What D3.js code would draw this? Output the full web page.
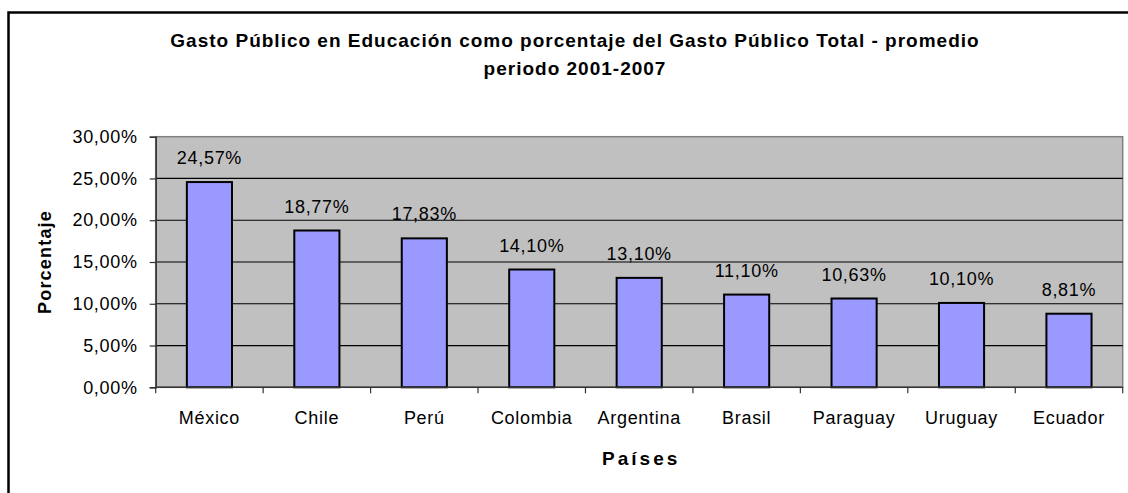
<!DOCTYPE html>
<html>
<head>
<meta charset="utf-8">
<script src="https://cdn.jsdelivr.net/npm/d3@7"></script>
<style>
  body { margin: 0; background: #fff; }
  svg { display: block; font-family: "Liberation Sans", Arial, sans-serif; }
</style>
</head>
<body>
<div id="chart"></div>
<script>
// data
var countries = ["México", "Chile", "Perú", "Colombia", "Argentina", "Brasil", "Paraguay", "Uruguay", "Ecuador"];
var shares = [0.2457, 0.1877, 0.1783, 0.1410, 0.1310, 0.1110, 0.1063, 0.1010, 0.0881];
var yTicks = [0, 0.05, 0.10, 0.15, 0.20, 0.25, 0.30];
var titleLines = ["Gasto Público en Educación como porcentaje del Gasto Público Total - promedio", "periodo 2001-2007"];

var width = 1128, height = 493;
var plot = { left: 155.7, right: 1122.7, top: 136.7, bottom: 387.3 };

// spanish style number format: 30,00%
var locale = d3.formatLocale({ decimal: ",", thousands: ".", grouping: [3], currency: ["", ""], percent: "%" });
var pct = locale.format(".2%");

var svg = d3.select("#chart").append("svg")
  .attr("width", width)
  .attr("height", height);

// outer chart border (runs off the picture on the right and bottom)
svg.append("rect")
  .attr("x", 8.5).attr("y", 12.5)
  .attr("width", 1140).attr("height", 500)
  .attr("fill", "#fff")
  .attr("stroke", "#000")
  .attr("stroke-width", 2.5);

var x = d3.scaleBand()
  .domain(countries)
  .range([plot.left, plot.right])
  .paddingInner(0.58)
  .paddingOuter(0.29);

var y = d3.scaleLinear()
  .domain([0, 0.30])
  .range([plot.bottom, plot.top]);

// plot background
svg.append("rect")
  .attr("x", plot.left).attr("y", plot.top)
  .attr("width", plot.right - plot.left)
  .attr("height", plot.bottom - plot.top)
  .attr("fill", "#c0c0c0")
  .attr("stroke", "#808080")
  .attr("stroke-width", 1.5);

// horizontal gridlines
svg.append("g")
  .selectAll("line")
  .data(yTicks.filter(function (d) { return d > 0 && d < 0.30; }))
  .enter().append("line")
  .attr("x1", plot.left).attr("x2", plot.right)
  .attr("y1", function (d) { return y(d); })
  .attr("y2", function (d) { return y(d); })
  .attr("stroke", "#000")
  .attr("stroke-width", 1.2);

// y axis
var yAxis = svg.append("g")
  .attr("transform", "translate(" + plot.left + ",0)")
  .call(d3.axisLeft(y).tickValues(yTicks).tickFormat(pct).tickSize(6).tickPadding(12));
yAxis.select(".domain").attr("stroke", "#333").attr("stroke-width", 1.5);
yAxis.selectAll(".tick line").attr("stroke", "#333").attr("stroke-width", 1.2);
yAxis.selectAll("text")
  .attr("fill", "#000")
  .style("font-size", "18px")
  .style("letter-spacing", "0.7px");

// bars
svg.append("g")
  .selectAll("rect")
  .data(shares)
  .enter().append("rect")
  .attr("x", function (d, i) { return x(countries[i]); })
  .attr("y", function (d) { return y(d); })
  .attr("width", x.bandwidth())
  .attr("height", function (d) { return y(0) - y(d); })
  .attr("fill", "#9999ff")
  .attr("stroke", "#000")
  .attr("stroke-width", 2);

// value labels above the bars
svg.append("g")
  .selectAll("text")
  .data(shares)
  .enter().append("text")
  .attr("x", function (d, i) { return x(countries[i]) + x.bandwidth() / 2; })
  .attr("y", function (d) { return y(d) - 18; })
  .attr("text-anchor", "middle")
  .style("font-size", "18px")
  .style("letter-spacing", "0.7px")
  .text(function (d) { return pct(d); });

// x axis: line, boundary ticks and category labels
var xAxis = svg.append("g");
xAxis.append("line")
  .attr("x1", plot.left).attr("x2", plot.right)
  .attr("y1", plot.bottom).attr("y2", plot.bottom)
  .attr("stroke", "#333").attr("stroke-width", 1.5);
xAxis.selectAll(".bound")
  .data(d3.range(countries.length + 1))
  .enter().append("line")
  .attr("class", "bound")
  .attr("x1", function (i) { return plot.left + i * x.step(); })
  .attr("x2", function (i) { return plot.left + i * x.step(); })
  .attr("y1", plot.bottom).attr("y2", plot.bottom + 6)
  .attr("stroke", "#333").attr("stroke-width", 1.2);
xAxis.selectAll(".cat")
  .data(countries)
  .enter().append("text")
  .attr("class", "cat")
  .attr("x", function (d) { return x(d) + x.bandwidth() / 2; })
  .attr("y", 423.5)
  .attr("text-anchor", "middle")
  .style("font-size", "18px")
  .style("letter-spacing", "0.7px")
  .text(function (d) { return d; });

// titles
svg.append("g")
  .selectAll("text")
  .data(titleLines)
  .enter().append("text")
  .attr("x", 575)
  .attr("y", function (d, i) { return 47 + i * 27.5; })
  .attr("text-anchor", "middle")
  .style("font-size", "19px")
  .style("font-weight", "bold")
  .style("letter-spacing", "1px")
  .text(function (d) { return d; });

svg.append("text")
  .attr("transform", "translate(51," + ((plot.top + plot.bottom) / 2) + ") rotate(-90)")
  .attr("text-anchor", "middle")
  .style("font-size", "18px")
  .style("font-weight", "bold")
  .style("letter-spacing", "1.2px")
  .text("Porcentaje");

svg.append("text")
  .attr("x", (plot.left + plot.right) / 2 + 2)
  .attr("y", 465)
  .attr("text-anchor", "middle")
  .style("font-size", "19px")
  .style("font-weight", "bold")
  .style("letter-spacing", "3px")
  .text("Países");
</script>
</body>
</html>
